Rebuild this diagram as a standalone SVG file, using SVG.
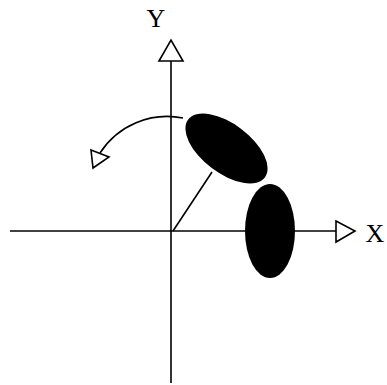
<svg xmlns="http://www.w3.org/2000/svg" width="387" height="385" viewBox="0 0 387 385">
  <style>
    .ln { stroke: #000; stroke-width: 1.6; fill: none; }
    .head { stroke: #000; stroke-width: 1.6; fill: #fff; stroke-linejoin: miter; }
    .lbl { font-family: "Liberation Serif", "Times New Roman", serif; font-size: 26px; fill: #000; }
    .blob { fill: #000; }
  </style>
  <rect width="387" height="385" fill="#fff"/>
  <g id="connectors">
    <line class="ln" x1="10" y1="231" x2="336" y2="231"/>
    <line class="ln" x1="171" y1="61" x2="171" y2="383"/>
    <line class="ln" x1="173" y1="231" x2="212" y2="172"/>
    <path class="ln" d="M183,118 A80,80 0 0 0 100,153"/>
    <polygon class="head" points="336,221 355,231 336,242"/>
    <polygon class="head" points="159,61 171,40 183,61"/>
    <polygon class="head" points="91,150 109,157 93,168"/>
  </g>
  <g id="ellipse-rotated">
    <ellipse class="blob" cx="226.5" cy="148.5" rx="48" ry="24.5" transform="rotate(37 226.5 148.5)"/>
  </g>
  <g id="ellipse-upright">
    <ellipse class="blob" cx="270" cy="231" rx="25" ry="47"/>
  </g>
  <g id="label-y">
    <text class="lbl" x="156" y="27" text-anchor="middle">Y</text>
  </g>
  <g id="label-x">
    <text class="lbl" x="375" y="242" text-anchor="middle">X</text>
  </g>
</svg>
